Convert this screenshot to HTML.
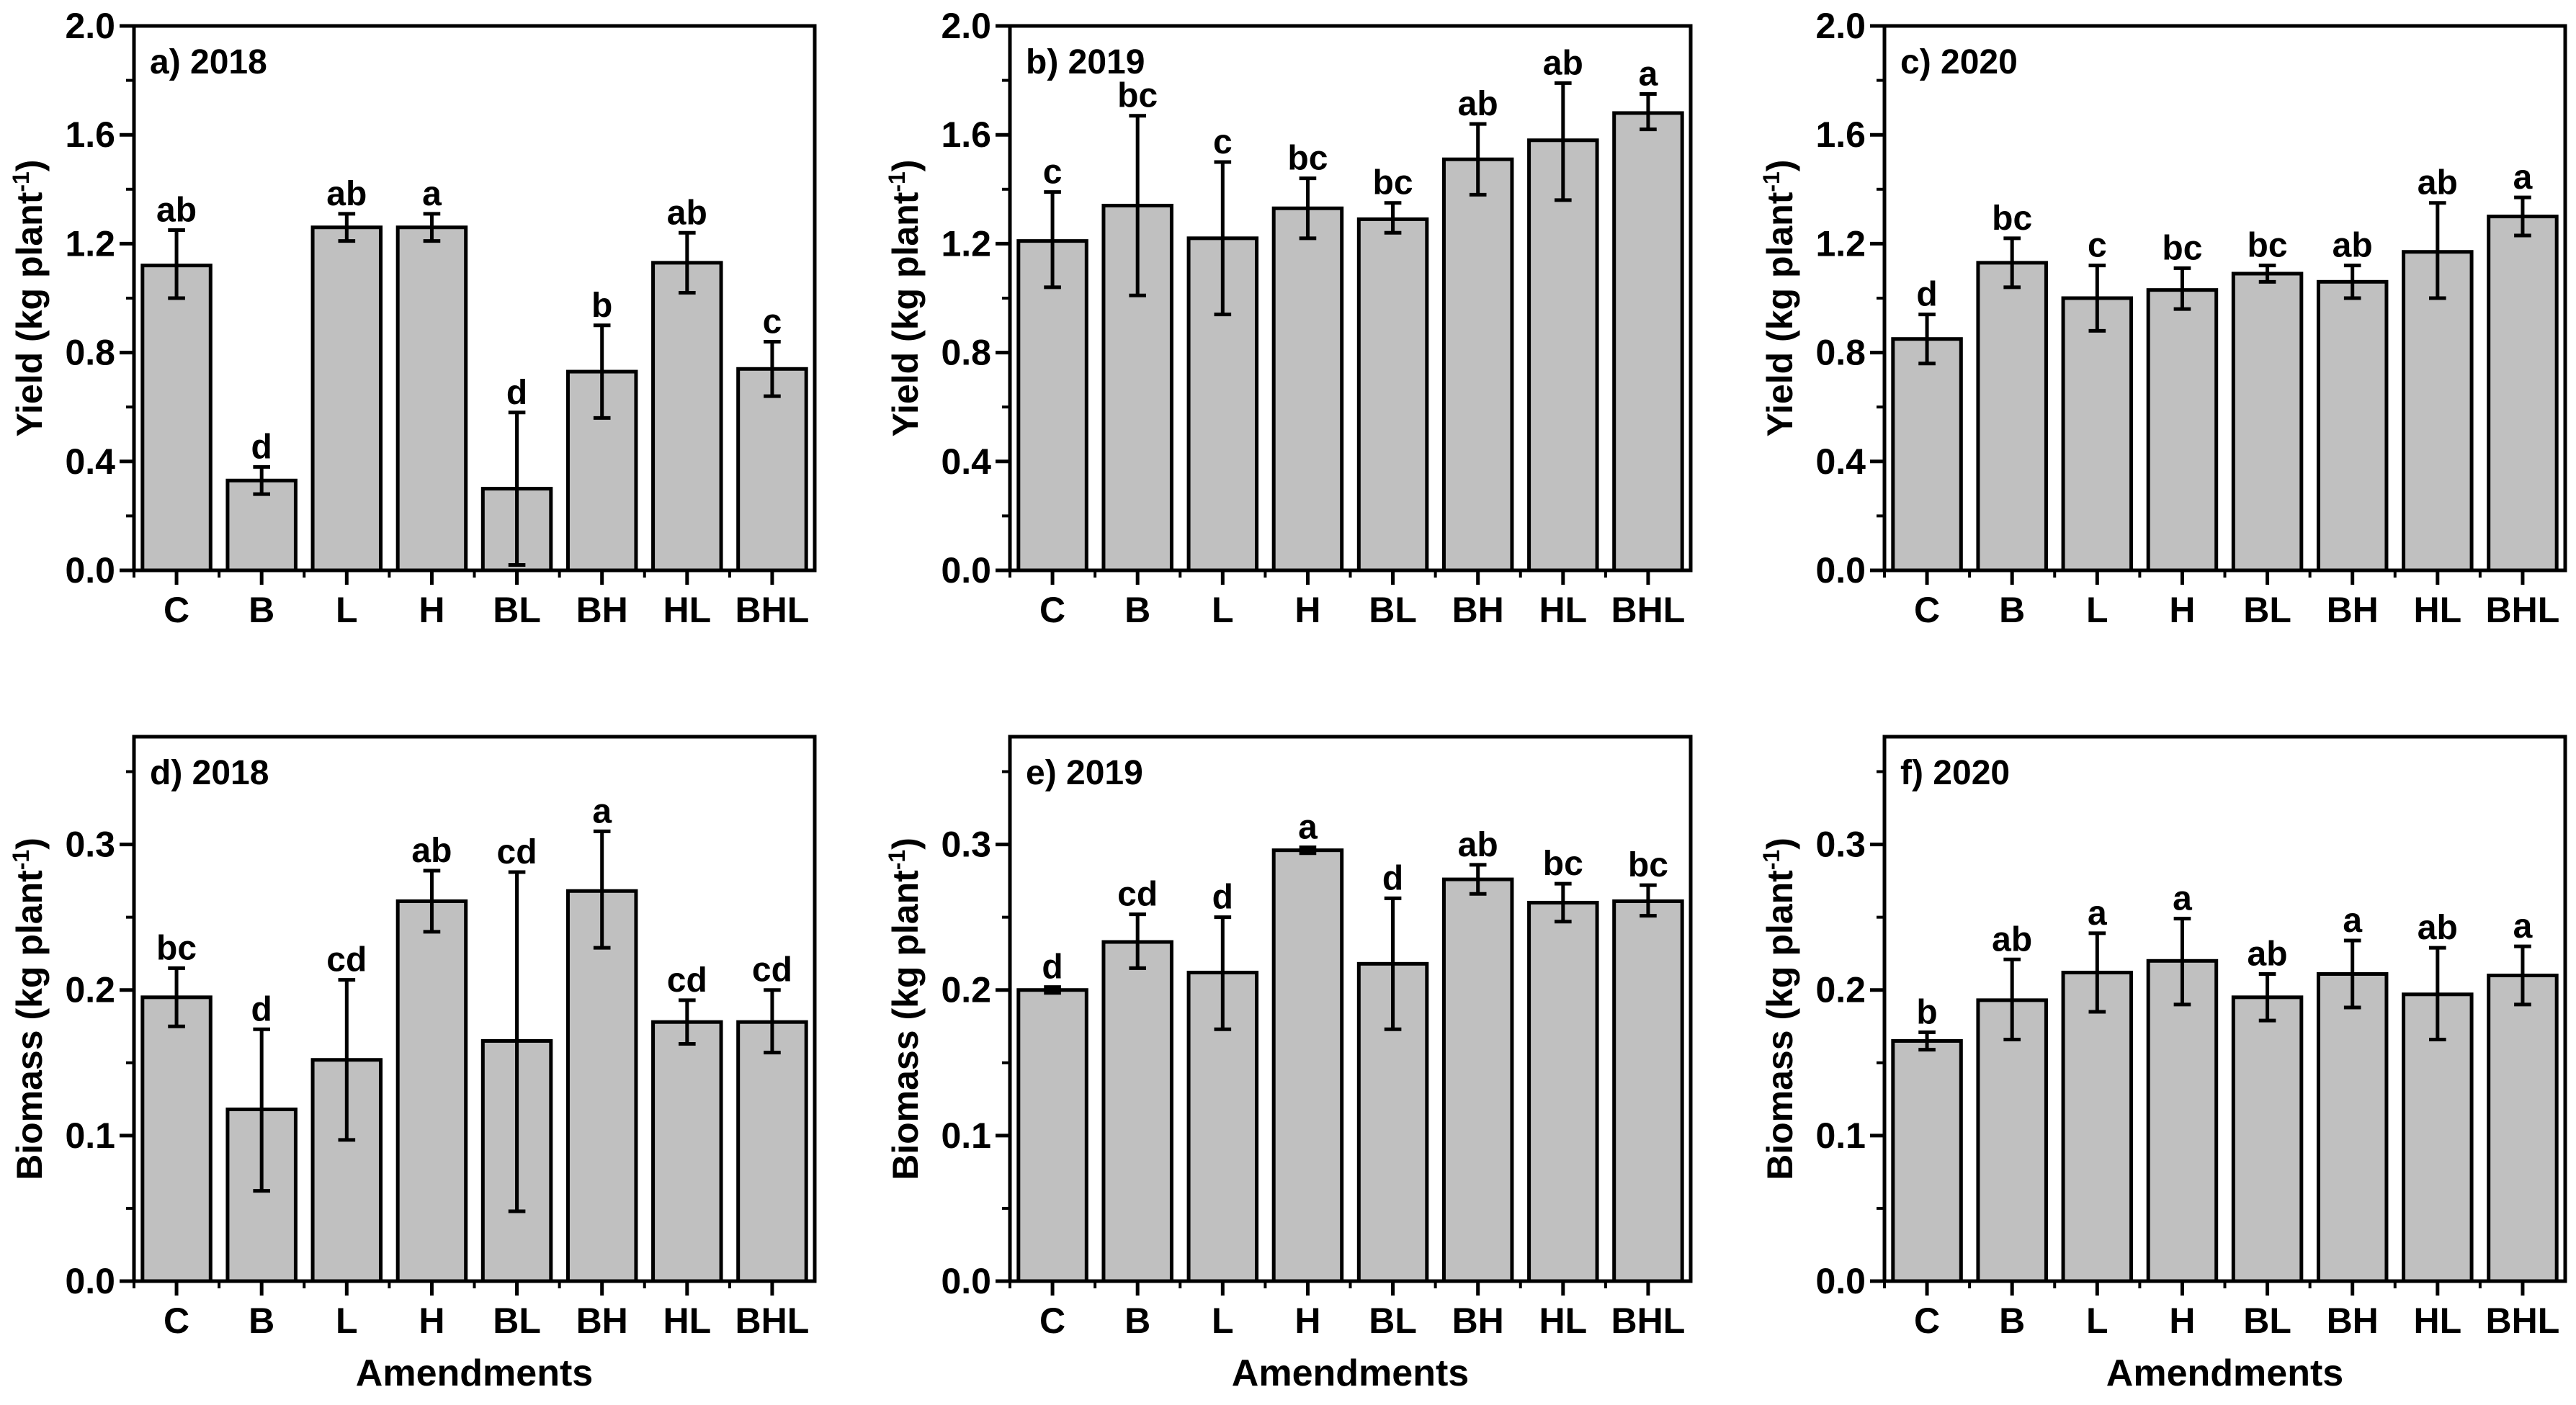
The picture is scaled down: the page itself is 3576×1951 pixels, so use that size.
<!DOCTYPE html>
<html><head><meta charset="utf-8"><style>
html,body{margin:0;padding:0;background:#fff;}
svg text{font-family:"Liberation Sans Narrow","Liberation Sans",sans-serif;font-weight:bold;fill:#000;}
</style></head><body>
<svg id="fig" xmlns="http://www.w3.org/2000/svg" width="3576" height="1946" viewBox="0 0 3576 1946"></svg>
<script>
const categories = ["C","B","L","H","BL","BH","HL","BHL"];
const yieldTicks = [0,0.4,0.8,1.2,1.6,2.0];
const yieldTickLabels = ["0.0","0.4","0.8","1.2","1.6","2.0"];
const bioTicks = [0,0.1,0.2,0.3];
const bioTickLabels = ["0.0","0.1","0.2","0.3"];
const yield2018 = [1.12,0.33,1.26,1.26,0.30,0.73,1.13,0.74];
const yield2018Lo = [1.00,0.28,1.21,1.21,0.02,0.56,1.02,0.64];
const yield2018Hi = [1.25,0.38,1.31,1.31,0.58,0.90,1.24,0.84];
const yield2018Letters = ["ab","d","ab","a","d","b","ab","c"];
const yield2019 = [1.21,1.34,1.22,1.33,1.29,1.51,1.58,1.68];
const yield2019Lo = [1.04,1.01,0.94,1.22,1.24,1.38,1.36,1.62];
const yield2019Hi = [1.39,1.67,1.50,1.44,1.35,1.64,1.79,1.75];
const yield2019Letters = ["c","bc","c","bc","bc","ab","ab","a"];
const yield2020 = [0.85,1.13,1.00,1.03,1.09,1.06,1.17,1.30];
const yield2020Lo = [0.76,1.04,0.88,0.96,1.06,1.00,1.00,1.23];
const yield2020Hi = [0.94,1.22,1.12,1.11,1.12,1.12,1.35,1.37];
const yield2020Letters = ["d","bc","c","bc","bc","ab","ab","a"];
const bio2018 = [0.195,0.118,0.152,0.261,0.165,0.268,0.178,0.178];
const bio2018Lo = [0.175,0.062,0.097,0.240,0.048,0.229,0.163,0.157];
const bio2018Hi = [0.215,0.173,0.207,0.282,0.281,0.309,0.193,0.200];
const bio2018Letters = ["bc","d","cd","ab","cd","a","cd","cd"];
const bio2019 = [0.200,0.233,0.212,0.296,0.218,0.276,0.260,0.261];
const bio2019Lo = [0.198,0.215,0.173,0.294,0.173,0.266,0.247,0.251];
const bio2019Hi = [0.202,0.252,0.250,0.298,0.263,0.286,0.273,0.272];
const bio2019Letters = ["d","cd","d","a","d","ab","bc","bc"];
const bio2020 = [0.165,0.193,0.212,0.220,0.195,0.211,0.197,0.210];
const bio2020Lo = [0.159,0.166,0.185,0.190,0.179,0.188,0.166,0.190];
const bio2020Hi = [0.171,0.221,0.239,0.249,0.211,0.234,0.229,0.230];
const bio2020Letters = ["b","ab","a","a","ab","a","ab","a"];

const NS="http://www.w3.org/2000/svg";
const svg=document.getElementById('fig');
function mk(tag,attrs,parent){const e=document.createElementNS(NS,tag);for(const k in attrs)e.setAttribute(k,attrs[k]);(parent||svg).appendChild(e);return e;}

function panel(cfg){
  const L=cfg.x,T=cfg.y,W=945,H=756,B=T+H,R=L+W;
  const g=mk('g',{});
  
  
  const ys=v=>B-(v/cfg.ymax)*H;
  const slot=W/categories.length;
  const xs=i=>L+slot*(i+0.5);
  const bw=slot*0.8;
  // bars
  cfg.vals.forEach((v,i)=>{
    const r=mk('rect',{x:xs(i)-bw/2,y:ys(v),width:bw,height:B-ys(v),fill:'#c0c0c0',stroke:'#000','stroke-width':5},g);
    
    
    const cx=xs(i),y1=ys(cfg.hi[i]),y2=ys(cfg.lo[i]),cw=slot*0.1;
    const eb=mk('path',{d:`M${cx},${y1}V${y2}M${cx-cw},${y1}H${cx+cw}M${cx-cw},${y2}H${cx+cw}`,stroke:'#000','stroke-width':5,fill:'none'},g);
    
    
    const t=mk('text',{x:cx,y:y1-12,'text-anchor':'middle','font-size':48},g);
    t.textContent=cfg.letters[i];
    
    
  });
  // frame
  const fr=mk('rect',{x:L,y:T,width:W,height:H,fill:'none',stroke:'#000','stroke-width':5},g);
  
  
  // y ticks
  cfg.ticks.forEach((v,i)=>{
    mk('line',{x1:L-20,x2:L,y1:ys(v),y2:ys(v),stroke:'#000','stroke-width':5},g);
    const t=mk('text',{x:L-26,y:ys(v)+17,'text-anchor':'end','font-size':50},g);
    t.textContent=cfg.tickLabels[i];
    
    
    if(i<cfg.ticks.length-1||cfg.minorTop){const m=v+cfg.minor;if(m<cfg.ymax)mk('line',{x1:L-11,x2:L,y1:ys(m),y2:ys(m),stroke:'#000','stroke-width':4},g);}
  });
  // x ticks
  categories.forEach((c,i)=>{
    mk('line',{x1:xs(i),x2:xs(i),y1:B,y2:B+20,stroke:'#000','stroke-width':5},g);
    mk('line',{x1:L+slot*i,x2:L+slot*i,y1:B,y2:B+10,stroke:'#000','stroke-width':4},g);
    const t=mk('text',{x:xs(i),y:B+72,'text-anchor':'middle','font-size':50},g);
    t.textContent=c;
    
    
  });
  const pt=mk('text',{x:L+22,y:T+66,'font-size':48},g);
  pt.textContent=cfg.title;
  
  
  const yt=mk('text',{x:0,y:0,'text-anchor':'middle','font-size':50,transform:`translate(${L-128},${T+H/2}) rotate(-90)`},g);
  yt.innerHTML=cfg.ytitle+' (kg plant<tspan dy="-18" font-size="32">-1</tspan><tspan dy="18">)</tspan>';
  
  
  if(cfg.xtitle){
    const xt=mk('text',{x:L+W/2,y:1924,'text-anchor':'middle','font-size':52},g);
    xt.textContent='Amendments';
    
    
  }
}
const cols=[186,1402,2616];
const yc={ymax:2.0,ticks:yieldTicks,tickLabels:yieldTickLabels,minor:0.2,ytitle:'Yield'};
const bc={ymax:0.374,ticks:bioTicks,tickLabels:bioTickLabels,minor:0.05,minorTop:true,ytitle:'Biomass',xtitle:true};
panel(Object.assign({},yc,{x:cols[0],y:36,name:'panel-a-yield-2018',title:'a) 2018',vals:yield2018,lo:yield2018Lo,hi:yield2018Hi,letters:yield2018Letters}));
panel(Object.assign({},yc,{x:cols[1],y:36,name:'panel-b-yield-2019',title:'b) 2019',vals:yield2019,lo:yield2019Lo,hi:yield2019Hi,letters:yield2019Letters}));
panel(Object.assign({},yc,{x:cols[2],y:36,name:'panel-c-yield-2020',title:'c) 2020',vals:yield2020,lo:yield2020Lo,hi:yield2020Hi,letters:yield2020Letters}));
panel(Object.assign({},bc,{x:cols[0],y:1023,name:'panel-d-biomass-2018',title:'d) 2018',vals:bio2018,lo:bio2018Lo,hi:bio2018Hi,letters:bio2018Letters}));
panel(Object.assign({},bc,{x:cols[1],y:1023,name:'panel-e-biomass-2019',title:'e) 2019',vals:bio2019,lo:bio2019Lo,hi:bio2019Hi,letters:bio2019Letters}));
panel(Object.assign({},bc,{x:cols[2],y:1023,name:'panel-f-biomass-2020',title:'f) 2020',vals:bio2020,lo:bio2020Lo,hi:bio2020Hi,letters:bio2020Letters}));
</script>
</body></html>
